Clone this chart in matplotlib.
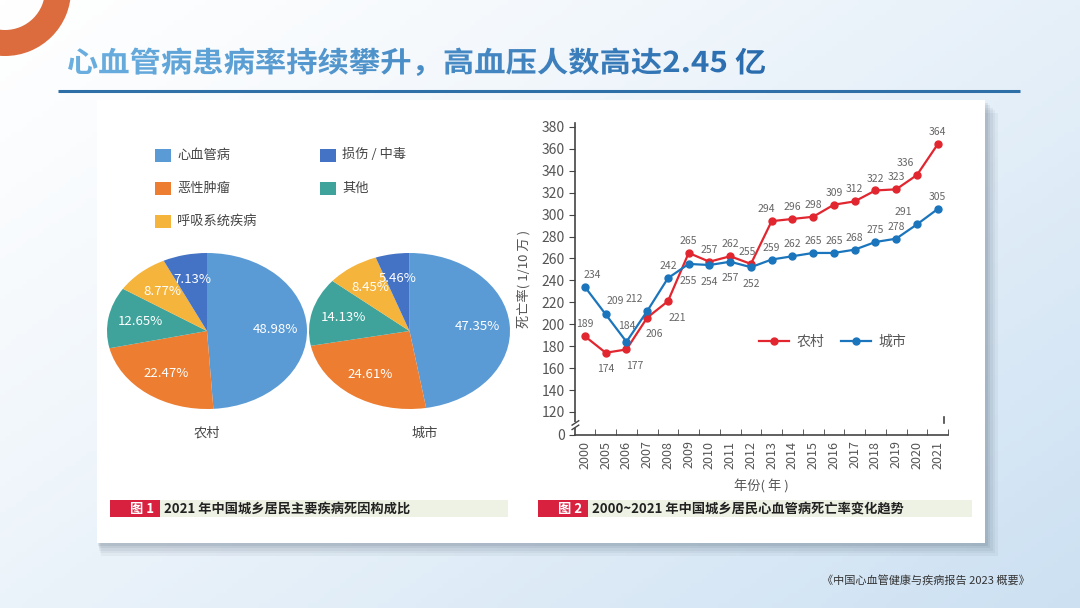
import numpy as np
import matplotlib.pyplot as plt
from matplotlib.patches import Rectangle, Wedge, PathPatch
from matplotlib.textpath import TextPath
from matplotlib.font_manager import FontProperties
from matplotlib.transforms import Affine2D

plt.rcParams['font.family'] = ['Noto Sans CJK SC', 'DejaVu Sans']

# ---- data ----
causes = ['心血管病', '恶性肿瘤', '其他', '呼吸系统疾病', '损伤 / 中毒']
rural_share = [48.98, 22.47, 12.65, 8.77, 7.13]
urban_share = [47.35, 24.61, 14.13, 8.45, 5.46]
cause_colors = ['#5b9bd5', '#ed7d31', '#3fa39b', '#f5b43c', '#4472c4']

years = ['2000', '2005', '2006', '2007', '2008', '2009', '2010', '2011', '2012',
         '2013', '2014', '2015', '2016', '2017', '2018', '2019', '2020', '2021']
rural_rate = [189, 174, 177, 206, 221, 265, 257, 262, 255, 294, 296, 298, 309, 312, 322, 323, 336, 364]
urban_rate = [234, 209, 184, 212, 242, 255, 254, 257, 252, 259, 262, 265, 265, 268, 275, 278, 291, 305]

title = '心血管病患病率持续攀升，高血压人数高达2.45 亿'

W, H = 1080, 608
fig = plt.figure(figsize=(W / 100, H / 100), dpi=100)


def px_axes(x0, y0, x1, y1):
    return fig.add_axes([x0 / W, 1 - y1 / H, (x1 - x0) / W, (y1 - y0) / H])


# ---- background layer in pixel coords ----
bg = fig.add_axes([0, 0, 1, 1])
bg.set_xlim(0, W)
bg.set_ylim(H, 0)
bg.axis('off')

xx, yy = np.meshgrid(np.linspace(0, 1, 200), np.linspace(0, 1, 120))
t = np.clip(0.55 * xx + 0.45 * yy, 0, 1) ** 1.2
c0 = np.array([1.0, 1.0, 1.0])
c1 = np.array([0.80, 0.88, 0.95])
grad = c0 + (c1 - c0) * t[..., None]
bg.imshow(grad, extent=(0, W, H, 0), aspect='auto', zorder=0)

# orange ring top-left
bg.add_patch(Wedge((5, -10), 66, 0, 360, width=26, facecolor='#dc6c3d', edgecolor='none', zorder=1))

# title with gradient fill
fp = FontProperties(family='Noto Sans CJK SC', weight='bold')
tp = TextPath((0, 0), title, size=30, prop=fp)
ext = tp.get_extents()
sx = 697 / ext.width
tr = Affine2D().translate(-ext.x0, 0).scale(sx, -0.95).translate(68, 72)
tpatch = PathPatch(tr.transform_path(tp), facecolor='none', edgecolor='none')
bg.add_patch(tpatch)
tgrad = np.linspace(0, 1, 256)[None, :]
tcol = np.array([0.42, 0.69, 0.88]) + (np.array([0.16, 0.42, 0.68]) - np.array([0.42, 0.69, 0.88])) * tgrad[..., None]
im = bg.imshow(tcol, extent=(68, 770, 80, 40), aspect='auto', zorder=3)
im.set_clip_path(tpatch)

# rule under title
bg.plot([58, 1020], [91, 91], color='#2f6fa8', lw=2.2, zorder=3, solid_capstyle='butt')

# card with shadow
for i, a in enumerate([0.05, 0.05, 0.06, 0.07, 0.09]):
    off = 13 - i * 2.6
    bg.add_patch(Rectangle((97 + off * 0.3, 100 + off), 888 + off * 0.7, 443, facecolor='#2b3f55',
                           alpha=a, edgecolor='none', zorder=2))
bg.add_patch(Rectangle((97, 100), 888, 443, facecolor='white', edgecolor='none', zorder=3))

# pie legend (drawn by hand)
leg_pos = [(155, 155), (155, 188), (155, 221), (320, 155), (320, 188)]
leg_order = [0, 1, 3, 4, 2]
for (lx, ly), k in zip(leg_pos, leg_order):
    bg.add_patch(Rectangle((lx, ly - 6.5), 16, 13, facecolor=cause_colors[k], edgecolor='none', zorder=4))
    bg.text(lx + 22, ly, causes[k], fontsize=9.5, color='#444444', va='center', ha='left', zorder=4)

bg.text(207, 433, '农村', fontsize=9.5, color='#444444', ha='center', va='center', zorder=4)
bg.text(425, 433, '城市', fontsize=9.5, color='#444444', ha='center', va='center', zorder=4)

# captions
for x0, x1, num, txt in [(110, 508, '图 1', '2021 年中国城乡居民主要疾病死因构成比'),
                         (538, 972, '图 2', '2000~2021 年中国城乡居民心血管病死亡率变化趋势')]:
    bg.add_patch(Rectangle((x0 + 50, 500), x1 - x0 - 50, 17, facecolor='#eef2e4', edgecolor='none', zorder=4))
    bg.add_patch(Rectangle((x0, 500), 50, 17, facecolor='#d8203f', edgecolor='none', zorder=4))
    bg.text(x0 + 32, 508.5, num, fontsize=9.5, color='white', ha='center', va='center',
            weight='bold', zorder=5)
    bg.text(x0 + 54, 508.5, txt, fontsize=9.5, color='#222222', ha='left', va='center',
            weight='bold', zorder=5)

bg.text(1030, 581, '《中国心血管健康与疾病报告 2023 概要》', fontsize=8, color='#333333',
        ha='right', va='center', zorder=4)

# ---- pies ----
for share, box in [(rural_share, (107, 253, 307, 409)), (urban_share, (309, 253, 510, 409))]:
    pax = px_axes(*box)
    pax.pie(share, colors=cause_colors, startangle=90, counterclock=False,
            autopct='%.2f%%', pctdistance=0.68,
            wedgeprops=dict(linewidth=0, edgecolor='none'),
            textprops=dict(color='white', fontsize=9.5))
    pax.set_aspect('auto')
    pax.set_xlim(-1, 1)
    pax.set_ylim(-1, 1)
    pax.axis('off')

# ---- line chart ----
ax = px_axes(575, 123, 948, 435)
ax.patch.set_alpha(0)
x = np.arange(len(years))
red = '#e2262f'
blue = '#1b75bc'
ax.plot(x, rural_rate, color=red, lw=1.6, marker='o', ms=5, label='农村', zorder=3)
ax.plot(x, urban_rate, color=blue, lw=1.6, marker='o', ms=5, label='城市', zorder=3)

rural_off = [(0, 5), (0, -12), (6, -12), (5, -12), (7, -12), (0, 5), (0, 5), (0, 5), (-3, 5),
             (-4, 5), (0, 5), (0, 5), (0, 5), (0, 5), (0, 5), (0, 5), (-8, 5), (0, 5)]
urban_off = [(5, 5), (7, 6), (0, 8), (-9, 5), (0, 5), (0, -12), (0, -12), (0, -12), (0, -12),
             (0, 5), (0, 5), (0, 5), (0, 5), (0, 5), (0, 5), (0, 5), (-10, 5), (0, 5)]
for series, offs in [(rural_rate, rural_off), (urban_rate, urban_off)]:
    for xi, v, (dx, dy) in zip(x, series, offs):
        ax.annotate(str(v), (xi, v), xytext=(dx, dy), textcoords='offset points',
                    ha='center', va='bottom' if dy > 0 else 'center', fontsize=7.5,
                    color='#666666', zorder=4)

ybot = 99
ax.set_ylim(ybot, 383.5)
ax.set_xlim(-0.48, 17.3)
yt = [ybot] + list(range(120, 381, 20))
ax.set_yticks(yt)
ax.set_yticklabels(['0'] + [str(v) for v in range(120, 381, 20)])
ax.set_xticks(x)
ax.set_xticklabels(years, rotation=90)
ax.set_xticks(x + 0.5, minor=True)
ax.tick_params(axis='x', which='major', length=0, labelsize=9, labelcolor='#555555', pad=4)
ax.tick_params(axis='x', which='minor', direction='in', length=4, color='#444444')
ax.tick_params(axis='y', direction='out', length=4, labelsize=10, labelcolor='#555555', color='#444444')
for s in ['top', 'right']:
    ax.spines[s].set_visible(False)
for s in ['left', 'bottom']:
    ax.spines[s].set_color('#444444')
    ax.spines[s].set_linewidth(1.2)

# axis break mark and right-end tick
ax.add_patch(Rectangle((-0.7, 105), 0.5, 6, facecolor='white', edgecolor='none',
                       clip_on=False, zorder=5))
ax.plot([-0.62, -0.3], [104, 108], color='#444444', lw=1, clip_on=False, zorder=6)
ax.plot([-0.62, -0.3], [108, 112], color='#444444', lw=1, clip_on=False, zorder=6)
ax.plot([17.3, 17.3], [110, 115], color='#444444', lw=1.2, clip_on=False)

ax.set_ylabel('死亡率( 1/10 万 )', fontsize=9.5, color='#555555', labelpad=8)
ax.set_xlabel('年份( 年 )', fontsize=9.5, color='#555555', labelpad=8)
ax.legend(loc='center', bbox_to_anchor=(0.69, 0.298), ncol=2, frameon=False, fontsize=10,
          labelcolor='#555555', handlelength=2.2, columnspacing=1.2, handletextpad=0.5)

fig.savefig('out.png', dpi=100)
